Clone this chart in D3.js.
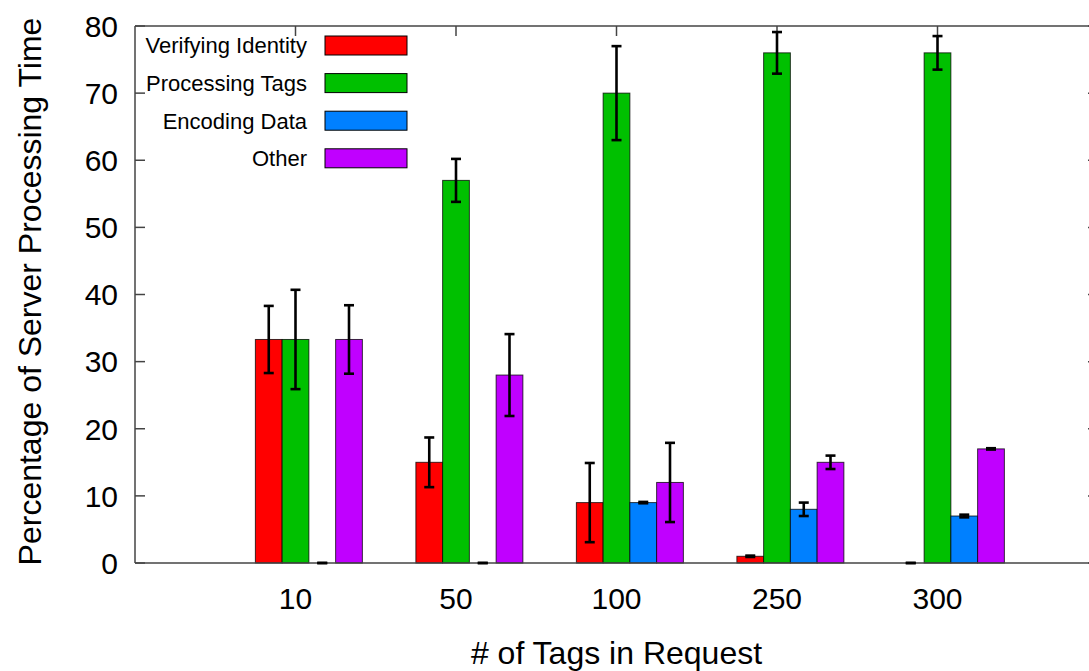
<!DOCTYPE html>
<html>
<head>
<meta charset="utf-8">
<script src="https://cdn.jsdelivr.net/npm/d3@7"></script>
<style>
  body { margin: 0; background: #fff; }
  text { font-family: "Liberation Sans", Arial, sans-serif; fill: #000; }
</style>
</head>
<body>
<svg id="chart" width="1089" height="671"></svg>
<script>
const categories = ['10', '50', '100', '250', '300'];
const seriesNames = ['Verifying Identity', 'Processing Tags', 'Encoding Data', 'Other'];
const seriesColors = ['#ff0000', '#00c000', '#0080ff', '#c000ff'];

const verifying = [33.3, 15, 9, 1, 0];
const processing = [33.3, 57, 70, 76, 76];
const encoding = [0, 0, 9, 8, 7];
const other = [33.3, 28, 12, 15, 17];

const verifyingErr = [5, 3.7, 5.9, 0.1, 0];
const processingErr = [7.4, 3.2, 7, 3.1, 2.5];
const encodingErr = [0, 0, 0.1, 1, 0.2];
const otherErr = [5.1, 6.1, 5.9, 1, 0.1];

const yTicks = [0, 10, 20, 30, 40, 50, 60, 70, 80];

const values = [verifying, processing, encoding, other];
const errors = [verifyingErr, processingErr, encodingErr, otherErr];

const svg = d3.select('#chart');
const plotTop = 26, plotBottom = 563;

// one unit per cluster, tick sits on the second bar
const x = d3.scaleLinear().domain([-1, 5]).range([135, 1098]);
const y = d3.scaleLinear().domain([0, 80]).range([plotBottom, plotTop]);
const bw = x(1 / 6) - x(0);

const bars = [];
values.forEach((arr, s) => {
  arr.forEach((v, g) => {
    bars.push({ s, g, v, e: errors[s][g], cx: x(g + (s - 1) / 6) });
  });
});

// frame + ticks
const axisColor = '#444';
const frame = svg.append('g').attr('stroke', axisColor).attr('stroke-width', 1.5);
frame.append('line').attr('x1', x(-1)).attr('x2', x(5)).attr('y1', plotTop).attr('y2', plotTop);
frame.append('line').attr('x1', x(-1)).attr('x2', x(-1)).attr('y1', plotTop).attr('y2', plotBottom);
frame.append('line').attr('x1', x(5)).attr('x2', x(5)).attr('y1', plotTop).attr('y2', plotBottom);

yTicks.forEach(t => {
  frame.append('line').attr('x1', x(-1)).attr('x2', x(-1) + 10).attr('y1', y(t)).attr('y2', y(t));
  frame.append('line').attr('x1', x(5)).attr('x2', x(5) - 10).attr('y1', y(t)).attr('y2', y(t));
});
categories.forEach((c, i) => {
  frame.append('line').attr('x1', x(i)).attr('x2', x(i)).attr('y1', plotTop).attr('y2', plotTop + 10);
  frame.append('line').attr('x1', x(i)).attr('x2', x(i)).attr('y1', plotBottom).attr('y2', plotBottom - 10);
});

svg.append('g').selectAll('text').data(yTicks).join('text')
  .attr('x', 118).attr('y', d => y(d)).attr('dy', '0.36em')
  .attr('text-anchor', 'end').attr('font-size', 30).text(d => d);

svg.append('g').selectAll('text').data(categories).join('text')
  .attr('x', (d, i) => x(i)).attr('y', 609)
  .attr('text-anchor', 'middle').attr('font-size', 30).text(d => d);

// bars
svg.append('g').selectAll('rect').data(bars).join('rect')
  .attr('x', d => d.cx - bw / 2).attr('width', bw)
  .attr('y', d => y(d.v)).attr('height', d => y(0) - y(d.v))
  .attr('fill', d => seriesColors[d.s])
  .attr('stroke', '#000').attr('stroke-opacity', 0.75).attr('stroke-width', 1);

// bottom axis line over the bar bases
svg.append('line').attr('x1', x(-1)).attr('x2', x(5)).attr('y1', plotBottom).attr('y2', plotBottom)
  .attr('stroke', axisColor).attr('stroke-width', 1.5);

// error bars
const eb = svg.append('g').attr('stroke', '#000').attr('stroke-width', 2.6);
bars.forEach(d => {
  const hi = y(d.v + d.e), lo = y(d.v - d.e);
  eb.append('line').attr('x1', d.cx).attr('x2', d.cx).attr('y1', hi).attr('y2', lo);
  eb.append('line').attr('x1', d.cx - 5).attr('x2', d.cx + 5).attr('y1', hi).attr('y2', hi);
  eb.append('line').attr('x1', d.cx - 5).attr('x2', d.cx + 5).attr('y1', lo).attr('y2', lo);
});

// legend
const legend = svg.append('g').selectAll('g').data(seriesNames).join('g')
  .attr('transform', (d, i) => `translate(0, ${45.5 + i * 37.6})`);
legend.append('text').attr('x', 307).attr('dy', '0.36em')
  .attr('text-anchor', 'end').attr('font-size', 22).text(d => d);
legend.append('rect').attr('x', 325).attr('y', -9.5).attr('width', 82).attr('height', 19)
  .attr('fill', (d, i) => seriesColors[i]).attr('stroke', '#000').attr('stroke-width', 1);

// axis titles
svg.append('text').attr('x', x(2)).attr('y', 664).attr('text-anchor', 'middle')
  .attr('font-size', 32).text('# of Tags in Request');
svg.append('text').attr('transform', `translate(41, ${(plotTop + plotBottom) / 2 - 3}) rotate(-90)`)
  .attr('text-anchor', 'middle').attr('font-size', 32).text('Percentage of Server Processing Time');
</script>
</body>
</html>
